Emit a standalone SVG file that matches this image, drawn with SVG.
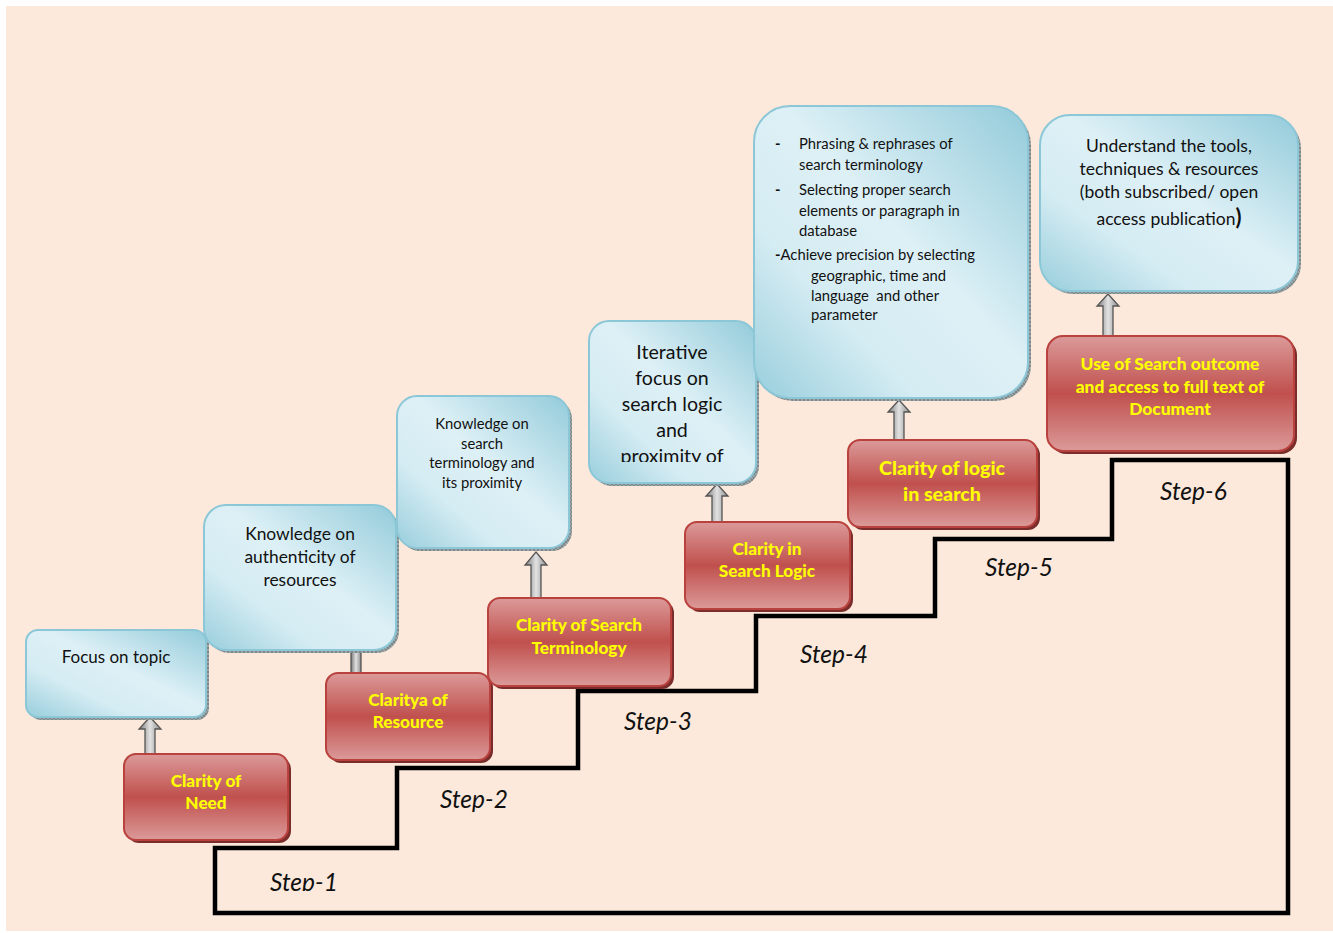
<svg xmlns="http://www.w3.org/2000/svg" width="1333" height="933" viewBox="0 0 1333 933">
<defs>
<linearGradient id="gBlue" x1="1" y1="0" x2="0" y2="1">
<stop offset="0" stop-color="#93CBDA"/>
<stop offset="0.45" stop-color="#DDF0F6"/>
<stop offset="0.7" stop-color="#D5ECF3"/>
<stop offset="1" stop-color="#98CEDC"/>
</linearGradient>
<linearGradient id="gRed" x1="0" y1="0" x2="0" y2="1">
<stop offset="0" stop-color="#DB9A99"/>
<stop offset="0.5" stop-color="#C0504D"/>
<stop offset="1" stop-color="#DB9A99"/>
</linearGradient>
<linearGradient id="gArrow" x1="0" y1="0" x2="1" y2="0">
<stop offset="0" stop-color="#7A7A7A"/>
<stop offset="0.5" stop-color="#E2E2E2"/>
<stop offset="1" stop-color="#8C8C8C"/>
</linearGradient>
<pattern id="hatch" width="4" height="4" patternUnits="userSpaceOnUse">
<rect width="4" height="4" fill="#9AA6A8"/>
<path d="M0 0L4 4M4 0L0 4" stroke="#6E7A7C" stroke-width="0.7"/>
</pattern>
<clipPath id="clipStep1"><rect x="200" y="840" width="300" height="51"/></clipPath>
<clipPath id="clipIter"><rect x="590" y="322" width="166" height="140"/></clipPath>
</defs>
<style>
.bg{fill:#FCE9DB}
.blue{fill:url(#gBlue);stroke:#8CC7D8;stroke-width:2}
.bshadow{fill:url(#hatch)}
.red{fill:url(#gRed);stroke:#B9413E;stroke-width:2}
.rshadow{fill:#7B2D2B}
.arrow{fill:url(#gArrow);stroke:#555;stroke-width:1.3}
.stair{fill:none;stroke:#000;stroke-width:4.5;stroke-linejoin:miter}
.t{font-family:Lato,"Open Sans","Liberation Sans",sans-serif;fill:#111;text-anchor:middle}
.tl{font-family:Lato,"Open Sans","Liberation Sans",sans-serif;fill:#111;text-anchor:start;font-size:14.8px;white-space:pre}
.y{font-family:Lato,"Open Sans","Liberation Sans",sans-serif;fill:#FFFF00;font-weight:900;text-anchor:middle}
.step{font-family:Lato,"Open Sans","Liberation Sans",sans-serif;font-style:italic;font-size:24.5px;fill:#111}
</style>
<rect x="0" y="0" width="1333" height="933" fill="#FFFFFF"/>
<rect class="bg" x="6" y="6" width="1327" height="925"/>

<g id="connectors">
<path class="stair" d="M215 848 L215 913 L1288 913 L1288 460 L1112 460 L1112 539 L935 539 L935 616 L756 616 L756 691 L578 691 L578 768 L397 768 L397 848 Z"/>
<path class="arrow" d="M145 754 L145 729 L139 729 L150 717 L161 729 L155 729 L155 754 Z"/>
<path class="arrow" d="M351 673 L351 640 L361 640 L361 673 Z"/>
<path class="arrow" d="M531 598 L531 565 L525 565 L536 552 L547 565 L541 565 L541 598 Z"/>
<path class="arrow" d="M712 522 L712 496 L706 496 L717 484 L728 496 L722 496 L722 522 Z"/>
<path class="arrow" d="M894 440 L894 412 L888 412 L899 400 L910 412 L904 412 L904 440 Z"/>
<path class="arrow" d="M1103 336 L1103 306 L1097 306 L1108 294 L1119 306 L1113 306 L1113 336 Z"/>
</g>

<g id="step-labels">
<text class="step" x="270" y="891" clip-path="url(#clipStep1)">Step-1</text>
<text class="step" x="440" y="808">Step-2</text>
<text class="step" x="624" y="730">Step-3</text>
<text class="step" x="800" y="663">Step-4</text>
<text class="step" x="985" y="576">Step-5</text>
<text class="step" x="1160" y="500">Step-6</text>
</g>

<g id="focus-topic">
<rect class="bshadow" x="29" y="633" width="180" height="87" rx="12"/>
<rect class="blue" x="26" y="630" width="180" height="87" rx="12"/>
<text class="t" font-size="17" x="116" y="663">Focus on topic</text>
</g>

<g id="knowledge-authenticity">
<rect class="bshadow" x="207" y="508" width="192" height="145" rx="22"/>
<rect class="blue" x="204" y="505" width="192" height="145" rx="22"/>
<text class="t" font-size="17.4" x="300" y="540">Knowledge on</text>
<text class="t" font-size="17.4" x="300" y="563">authenticity of</text>
<text class="t" font-size="17.4" x="300" y="586">resources</text>
</g>

<g id="knowledge-terminology">
<rect class="bshadow" x="400" y="399" width="172" height="152" rx="20"/>
<rect class="blue" x="397" y="396" width="172" height="152" rx="20"/>
<text class="t" font-size="14.8" x="482" y="429">Knowledge on</text>
<text class="t" font-size="14.8" x="482" y="449">search</text>
<text class="t" font-size="14.8" x="482" y="468">terminology and</text>
<text class="t" font-size="14.8" x="482" y="488">its proximity</text>
</g>

<g id="iterative-focus">
<rect class="bshadow" x="592" y="324" width="167" height="162" rx="20"/>
<rect class="blue" x="589" y="321" width="167" height="162" rx="20"/>
<g clip-path="url(#clipIter)">
<text class="t" font-size="19.6" x="672" y="359">Iterative</text>
<text class="t" font-size="19.6" x="672" y="385">focus on</text>
<text class="t" font-size="19.6" x="672" y="411">search logic</text>
<text class="t" font-size="19.6" x="672" y="437">and</text>
<text class="t" font-size="19.6" x="672" y="463">proximity of</text>
</g>
</g>

<g id="phrasing-box">
<rect class="bshadow" x="757" y="109" width="274" height="292" rx="36"/>
<rect class="blue" x="754" y="106" width="274" height="292" rx="36"/>
<text class="tl" x="775" y="149" font-weight="bold">-</text>
<text class="tl" x="799" y="149">Phrasing &amp; rephrases of</text>
<text class="tl" x="799" y="170">search terminology</text>
<text class="tl" x="775" y="195" font-weight="bold">-</text>
<text class="tl" x="799" y="195">Selecting proper search</text>
<text class="tl" x="799" y="216">elements or paragraph in</text>
<text class="tl" x="799" y="236">database</text>
<text class="tl" x="775" y="260"><tspan font-weight="bold">-</tspan>Achieve precision by selecting</text>
<text class="tl" x="811" y="281">geographic, time and</text>
<text class="tl" x="811" y="301">language  and other</text>
<text class="tl" x="811" y="320">parameter</text>
</g>

<g id="understand-tools">
<rect class="bshadow" x="1043" y="118" width="258" height="176" rx="30"/>
<rect class="blue" x="1040" y="115" width="258" height="176" rx="30"/>
<text class="t" font-size="17.5" x="1169" y="152">Understand the tools,</text>
<text class="t" font-size="17.5" x="1169" y="175">techniques &amp; resources</text>
<text class="t" font-size="17.5" x="1169" y="198">(both subscribed/ open</text>
<text class="t" font-size="17.5" x="1169" y="225">access publication<tspan font-size="22" font-weight="bold">)</tspan></text>
</g>

<g id="clarity-need">
<rect class="rshadow" x="127" y="757" width="164" height="86" rx="12"/>
<rect class="red" x="124" y="754" width="164" height="86" rx="12"/>
<text class="y" font-size="17.2" x="206" y="787">Clarity of</text>
<text class="y" font-size="17.2" x="206" y="809">Need</text>
</g>

<g id="clarity-resource">
<rect class="rshadow" x="329" y="676" width="164" height="87" rx="12"/>
<rect class="red" x="326" y="673" width="164" height="87" rx="12"/>
<text class="y" font-size="17.2" x="408" y="706">Claritya of</text>
<text class="y" font-size="17.2" x="408" y="728">Resource</text>
</g>

<g id="clarity-terminology">
<rect class="rshadow" x="491" y="601" width="183" height="88" rx="12"/>
<rect class="red" x="488" y="598" width="183" height="88" rx="12"/>
<text class="y" font-size="17.2" x="579" y="631">Clarity of Search</text>
<text class="y" font-size="17.2" x="579" y="654">Terminology</text>
</g>

<g id="clarity-logic">
<rect class="rshadow" x="688" y="525" width="165" height="87" rx="12"/>
<rect class="red" x="685" y="522" width="165" height="87" rx="12"/>
<text class="y" font-size="17.2" x="767" y="555">Clarity in</text>
<text class="y" font-size="17.2" x="767" y="577">Search Logic</text>
</g>

<g id="clarity-logic-search">
<rect class="rshadow" x="851" y="443" width="189" height="87" rx="12"/>
<rect class="red" x="848" y="440" width="189" height="87" rx="12"/>
<text class="y" font-size="19.6" x="942" y="475">Clarity of logic</text>
<text class="y" font-size="19.6" x="942" y="501">in search</text>
</g>

<g id="use-outcome">
<rect class="rshadow" x="1050" y="339" width="247" height="115" rx="16"/>
<rect class="red" x="1047" y="336" width="247" height="115" rx="16"/>
<text class="y" font-size="17.4" x="1170" y="370">Use of Search outcome</text>
<text class="y" font-size="17.4" x="1170" y="393">and access to full text of</text>
<text class="y" font-size="17.4" x="1170" y="415">Document</text>
</g>
</svg>
